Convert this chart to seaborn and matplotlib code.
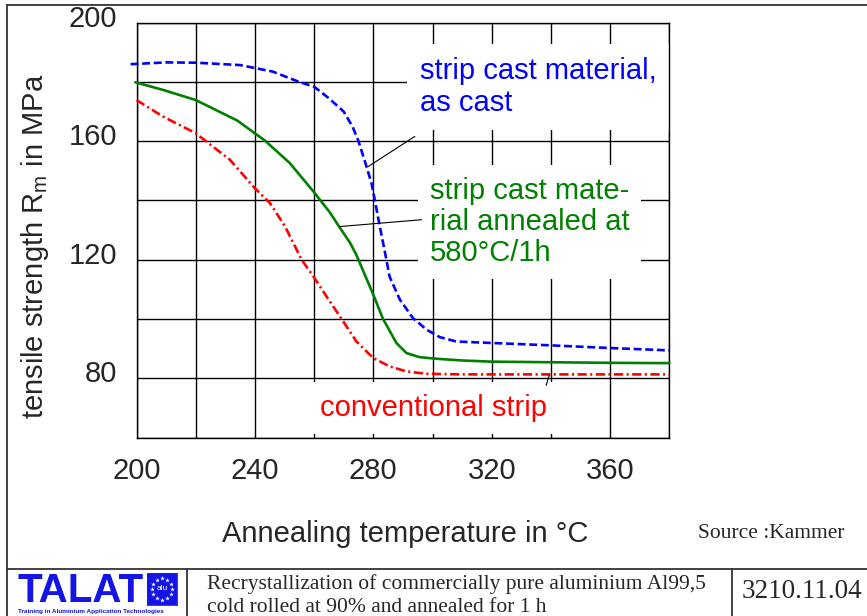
import numpy as np
import pandas as pd
import seaborn as sns
import matplotlib.pyplot as plt
import matplotlib.transforms as mtransforms
from matplotlib.lines import Line2D

# Tensile strength curves
temp_as_cast = [198, 210, 220, 235, 246, 255, 260, 265, 270, 273, 275, 277, 279.4, 280.5,
                282.2, 284, 285.5, 289, 293.4, 298, 302.4, 308, 320, 340, 360, 380]
rm_as_cast = [186.0, 186.6, 186.5, 185.7, 183.5, 180.0, 178.4, 174.5, 170.0, 164.9, 160.0, 153.7,
              145.8, 140.2, 131.2, 122.2, 114.3, 106.5, 100.3, 96.4, 93.9, 92.4, 91.9, 91.1, 90.2, 89.4]

temp_annealed = [199.6, 209, 220, 234, 243.4, 251.8, 259.8, 265.3, 268.7, 272.1, 274.3, 280,
                 283.3, 287.8, 291.2, 295.7, 302.4, 310, 320, 340, 360, 380]
rm_annealed = [179.9, 177.3, 173.9, 167.0, 160.2, 152.6, 143.0, 136.0, 130.8, 125.8, 121.6, 108.2,
               100.0, 91.9, 88.5, 87.1, 86.5, 86.0, 85.6, 85.4, 85.2, 85.1]

temp_conv = [200, 209, 220, 231.6, 240, 245.1, 250.2, 255.8, 259.8, 264.2, 269.3, 274.3, 280,
             285.5, 291.2, 298, 310, 340, 360, 380]
rm_conv = [173.9, 168.3, 162.7, 153.7, 144.1, 139.1, 131.2, 120.0, 114.3, 107.6, 100.0, 92.4, 86.8,
           84.0, 82.3, 81.5, 81.3, 81.3, 81.3, 81.3]

series_names = ["as cast", "annealed", "conventional"]
series_colors = {"as cast": "#0000FF", "annealed": "#008000", "conventional": "#FF0000"}
series_dashes = {"as cast": (3, 1.4), "annealed": "", "conventional": (3.5, 1.3, 0.8, 1.3)}

x_ticks = [200, 240, 280, 320, 360]
y_ticks = [80, 120, 160, 200]

df = pd.concat([
    pd.DataFrame({"temp": temp_as_cast, "rm": rm_as_cast, "series": "as cast"}),
    pd.DataFrame({"temp": temp_annealed, "rm": rm_annealed, "series": "annealed"}),
    pd.DataFrame({"temp": temp_conv, "rm": rm_conv, "series": "conventional"}),
], ignore_index=True)

sns.set_style("white")
plt.rcParams["font.family"] = ["Liberation Sans", "DejaVu Sans"]
plt.rcParams["mathtext.default"] = "regular"

fig = plt.figure(figsize=(8.67, 6.16), dpi=100)
ax = fig.add_axes([136.5 / 867, 1 - 437.5 / 616, 532.8 / 867, 414.8 / 616])

sns.lineplot(
    data=df, x="temp", y="rm",
    hue="series", style="series",
    hue_order=series_names, style_order=series_names,
    palette=series_colors, dashes=series_dashes,
    linewidth=1.9, legend=False, ax=ax,
    clip_on=False, zorder=5
)

ax.set_xlim(200, 380)
ax.set_ylim(60, 200)
ax.set_xticks(x_ticks)
ax.set_xticklabels([str(t) for t in x_ticks])
ax.set_yticks(y_ticks)
ax.set_yticklabels([str(t) for t in y_ticks])
ax.set_xticks(np.arange(200, 381, 20), minor=True)
ax.set_yticks(np.arange(60, 201, 20), minor=True)
ax.set_axisbelow(True)
ax.grid(which="both", color="black", linewidth=1.0)
ax.tick_params(which="both", length=0)
ax.tick_params(axis="x", labelsize=21, pad=14)
ax.tick_params(axis="y", labelsize=21, pad=14)
for name, spine in ax.spines.items():
    spine.set_visible(True)
    spine.set_color("black")
    spine.set_linewidth(1.0)
    # only the bottom edge is hidden by a label box in the original
    if name != "bottom":
        spine.set_zorder(4.5)

# y tick labels sit a little above their grid lines in the original
up = mtransforms.ScaledTranslation(0, 0.07, fig.dpi_scale_trans)
for lab in ax.get_yticklabels():
    lab.set_transform(lab.get_transform() + up)

ax.set_xlabel("Annealing temperature in \u00b0C", fontsize=21)
ax.xaxis.set_label_coords(0.505, -0.2)
ax.set_ylabel("tensile strength R$_{m}$ in MPa", fontsize=21)
ax.yaxis.set_label_coords(-0.16, 0.462)

# curve labels with white boxes hiding the grid
ax.text(295.8, 178.3, "strip cast material,\nas cast", color="#0000FF", fontsize=21,
        ha="left", va="center", linespacing=1.15,
        bbox=dict(boxstyle="square,pad=0.45", facecolor="white", edgecolor="none"), zorder=4)
ax.text(299.1, 132.8, "strip cast mate-\nrial annealed at\n580\u00b0C/1h", color="#008000",
        fontsize=21, ha="left", va="center", linespacing=1.15,
        bbox=dict(boxstyle="square,pad=0.4", facecolor="white", edgecolor="none"), zorder=4)
ax.text(261.9, 70.0, "conventional strip", color="#FF0000", fontsize=21,
        ha="left", va="center",
        bbox=dict(boxstyle="square,pad=0.42", facecolor="white", edgecolor="none"), zorder=4)

leader = dict(arrowstyle="-", color="black", lw=0.8, shrinkA=0, shrinkB=0)
ax.annotate("", xy=(278.2, 151.4), xytext=(294.0, 161.6), arrowprops=leader, zorder=6)
ax.annotate("", xy=(268.7, 131.2), xytext=(296.3, 133.5), arrowprops=leader, zorder=6)
ax.annotate("", xy=(339.5, 81.2), xytext=(338.4, 77.6), arrowprops=leader, zorder=6)

# page frame and footer
frame = "#333333"
for xs, ys in [([7 / 867, 1], [1 - 5 / 616, 1 - 5 / 616]),
               ([7 / 867, 7 / 867], [0, 1 - 5 / 616]),
               ([7 / 867, 1], [1 - 568.7 / 616, 1 - 568.7 / 616]),
               ([186.7 / 867, 186.7 / 867], [0, 1 - 568.7 / 616]),
               ([732.3 / 867, 732.3 / 867], [0, 1 - 568.7 / 616])]:
    fig.add_artist(Line2D(xs, ys, color=frame, lw=1.3, transform=fig.transFigure))

fig.text(698 / 867, 1 - 533 / 616, "Source :Kammer", family="Liberation Serif",
         fontsize=15.5, ha="left", va="center")
fig.text(206.7 / 867, 1 - 595.5 / 616,
         "Recrystallization of commercially pure aluminium Al99,5\ncold rolled at 90% and annealed for 1 h",
         family="Liberation Serif", fontsize=15.5, ha="left", va="center", linespacing=1.3)
fig.text(741.7 / 867, 1 - 592 / 616, "3210.11.04", family="Liberation Serif",
         fontsize=19.5, ha="left", va="center")

fig.text(18 / 867, 1 - 602 / 616, "TALAT", color="#1414E6", fontsize=29,
         fontweight="bold", ha="left", va="baseline")
fig.text(18 / 867, 1 - 611.5 / 616, "Training in Aluminium Application Technologies",
         color="#1414E6", fontsize=4.6, fontweight="bold", ha="left", va="center")

logo = fig.add_axes([147 / 867, 1 - 605 / 616, 30 / 867, 32 / 616])
logo.set_facecolor("#1414E6")
ang = np.linspace(0, 2 * np.pi, 12, endpoint=False)
logo.scatter(np.cos(ang), np.sin(ang), marker="*", s=12, color="white", linewidths=0)
logo.text(0, 0, "alu", color="white", fontsize=6, ha="center", va="center")
logo.set_xlim(-1.5, 1.5)
logo.set_ylim(-1.5, 1.5)
logo.set_xticks([])
logo.set_yticks([])
for spine in logo.spines.values():
    spine.set_color("#333333")
    spine.set_linewidth(0.6)

fig.savefig("out.png", dpi=100)
